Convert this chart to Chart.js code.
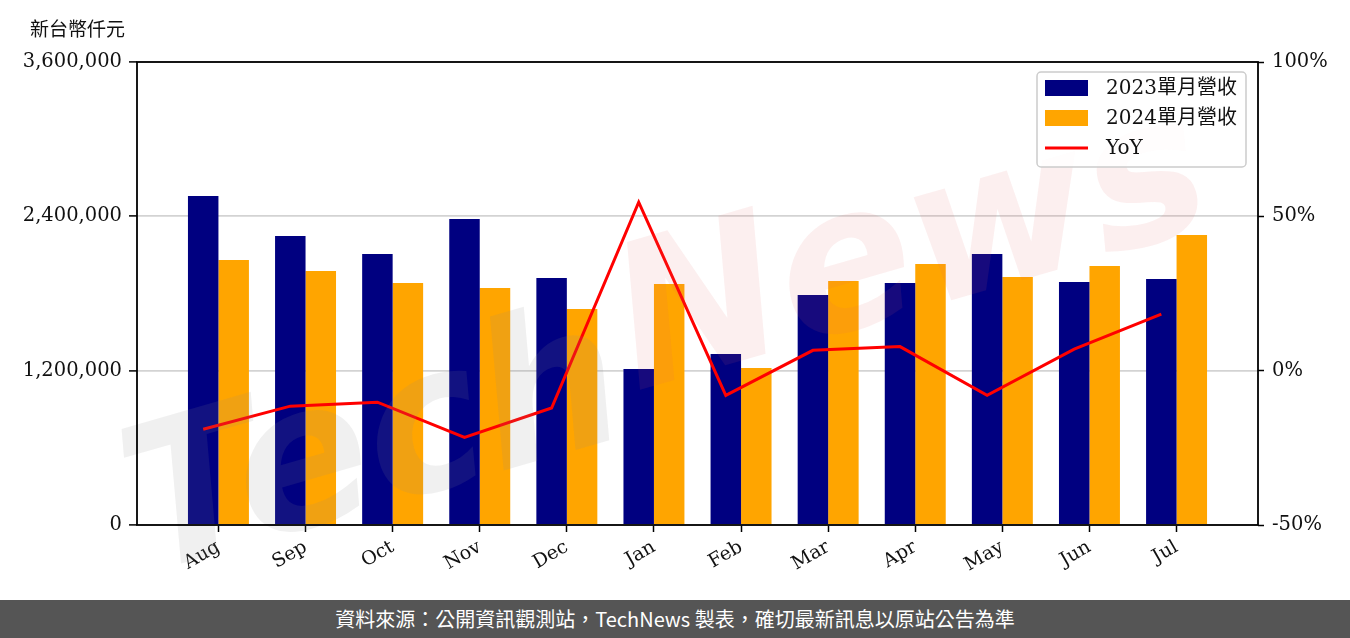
<!DOCTYPE html>
<html>
<head>
<meta charset="utf-8">
<script src="https://cdn.jsdelivr.net/npm/chart.js@4/dist/chart.umd.min.js"></script>
<style>
  body { margin: 0; background: #fff; }
  #wrap { position: relative; width: 1350px; height: 638px; overflow: hidden; }
  #box { position: absolute; left: 0; top: 0; width: 1350px; height: 600px; }
  #unit { position: absolute; left: 30px; top: 14px; font: 19px "DejaVu Serif", "Noto Sans CJK TC"; color: #111; }
  #foot { position: absolute; left: 0; top: 600px; width: 1350px; height: 38px; background: #555555;
          color: #fff; font: 20px "Noto Sans CJK TC"; line-height: 38px; text-align: center; }
</style>
</head>
<body>
<div id="wrap">
  <div id="box"><canvas id="grafico"></canvas></div>
  <div id="unit">新台幣仟元</div>
  <div id="foot">資料來源：公開資訊觀測站，TechNews 製表，確切最新訊息以原站公告為準</div>
</div>
<script>
  // 月份與營收（新台幣仟元），數值由圖上估讀
  const meses = ["Aug", "Sep", "Oct", "Nov", "Dec", "Jan", "Feb", "Mar", "Apr", "May", "Jun", "Jul"];
  const receita2023 = [2558000, 2247000, 2107000, 2379000, 1921000, 1213000, 1330000, 1788000, 1882000, 2107000, 1890000, 1913000];
  const receita2024 = [2060000, 1975000, 1882000, 1843000, 1680000, 1874000, 1221000, 1897000, 2030000, 1928000, 2014000, 2255000];
  const yoy = [-19.0, -11.5, -10.2, -21.6, -12.1, 54.6, -8.0, 6.6, 7.8, -8.0, 7.0, 18.3];
  const ticksEsq = [0, 1200000, 2400000, 3600000];
  const ticksDir = [-50, 0, 50, 100];

  const fonte = '"DejaVu Serif", "Noto Sans CJK TC"';
  // a linha YoY fica no centro da barra de 2023 (meia largura de barra à esquerda)
  const desvioLinha = -0.175;

  // moldura do gráfico (borda superior também)
  const moldura = {
    id: "moldura",
    afterDraw(chart) {
      const { ctx, chartArea: a } = chart;
      ctx.save();
      ctx.strokeStyle = "#000";
      ctx.lineWidth = 1.8;
      ctx.strokeRect(a.left, a.top, a.right - a.left, a.bottom - a.top);
      ctx.restore();
    }
  };

  // marca d'água
  const marca = {
    id: "marca",
    afterDatasetsDraw(chart) {
      const ctx = chart.ctx;
      ctx.save();
      ctx.translate(660, 330);
      ctx.rotate(-0.28);
      ctx.font = 'italic bold 200px "DejaVu Sans"';
      ctx.textBaseline = "middle";
      ctx.fillStyle = "rgba(140,140,140,0.13)";
      ctx.fillText("Tech", -560, 40);
      ctx.fillStyle = "rgba(225,100,100,0.10)";
      ctx.fillText("News", -40, 0);
      ctx.restore();
    }
  };

  // legenda dentro da área do gráfico
  const legenda = {
    id: "legenda",
    afterDraw(chart) {
      const { ctx, chartArea: a } = chart;
      const w = 209, h = 95;
      const x = a.right - 12 - w, y = a.top + 10;
      ctx.save();
      ctx.fillStyle = "rgba(255,255,255,0.85)";
      ctx.strokeStyle = "#cccccc";
      ctx.lineWidth = 1.5;
      ctx.beginPath();
      ctx.roundRect(x, y, w, h, 4);
      ctx.fill();
      ctx.stroke();
      const itens = [chart.data.datasets[1], chart.data.datasets[2], chart.data.datasets[0]];
      ctx.font = "20px " + fonte;
      ctx.textBaseline = "middle";
      itens.forEach((ds, i) => {
        const cy = y + 16 + i * 30;
        if (ds.type === "line") {
          ctx.strokeStyle = ds.borderColor;
          ctx.lineWidth = 3;
          ctx.beginPath();
          ctx.moveTo(x + 8, cy);
          ctx.lineTo(x + 51, cy);
          ctx.stroke();
        } else {
          ctx.fillStyle = ds.backgroundColor;
          ctx.fillRect(x + 8, cy - 8, 43, 16);
        }
        ctx.fillStyle = "#111";
        ctx.fillText(ds.label, x + 69, cy + 1);
      });
      ctx.restore();
    }
  };

  new Chart(document.getElementById("grafico"), {
    data: {
      datasets: [
        {
          type: "line",
          label: "YoY",
          data: yoy.map((v, i) => ({ x: i + desvioLinha, y: v })),
          yAxisID: "y1",
          borderColor: "#ff0000",
          borderWidth: 3,
          pointRadius: 0,
          tension: 0
        },
        {
          type: "bar",
          label: "2023單月營收",
          data: receita2023.map((v, i) => ({ x: i, y: v })),
          yAxisID: "y",
          backgroundColor: "#000080",
          categoryPercentage: 0.7,
          barPercentage: 1.0
        },
        {
          type: "bar",
          label: "2024單月營收",
          data: receita2024.map((v, i) => ({ x: i, y: v })),
          yAxisID: "y",
          backgroundColor: "#ffa500",
          categoryPercentage: 0.7,
          barPercentage: 1.0
        }
      ]
    },
    options: {
      responsive: true,
      maintainAspectRatio: false,
      animation: false,
      layout: { padding: { top: 62, left: 0, right: 0, bottom: 0 } },
      plugins: {
        legend: { display: false },
        tooltip: { enabled: false }
      },
      scales: {
        x: {
          type: "linear",
          min: -0.935,
          max: 11.935,
          offset: false,
          afterBuildTicks: (s) => { s.ticks = meses.map((m, i) => ({ value: i })); },
          afterFit: (s) => { s.height = 75; },
          border: { display: false },
          grid: { offset: false, drawOnChartArea: false, tickLength: 7, tickColor: "#000", tickWidth: 1.5 },
          ticks: {
            autoSkip: false,
            minRotation: 30,
            maxRotation: 30,
            padding: 4,
            color: "#111",
            font: { family: fonte, size: 19 },
            callback: (v) => meses[v]
          }
        },
        y: {
          position: "left",
          min: 0,
          max: 3600000,
          afterBuildTicks: (s) => { s.ticks = ticksEsq.map(v => ({ value: v })); },
          afterFit: (s) => { s.width = 137; },
          border: { display: false },
          grid: { color: "#d3d3d3", lineWidth: 1.8, tickLength: 8, tickColor: "#000", tickWidth: 1.5 },
          ticks: {
            padding: 7,
            color: "#111",
            font: { family: fonte, size: 19.5 },
            callback: (v) => v.toLocaleString("en-US")
          }
        },
        y1: {
          position: "right",
          min: -50,
          max: 100,
          afterBuildTicks: (s) => { s.ticks = ticksDir.map(v => ({ value: v })); },
          afterFit: (s) => { s.width = 92; },
          border: { display: false },
          grid: { drawOnChartArea: false, tickLength: 6, tickColor: "#000", tickWidth: 1.5 },
          ticks: {
            padding: 8,
            color: "#111",
            font: { family: fonte, size: 19.5 },
            callback: (v) => v + "%"
          }
        }
      }
    },
    plugins: [marca, moldura, legenda]
  });
</script>
</body>
</html>
